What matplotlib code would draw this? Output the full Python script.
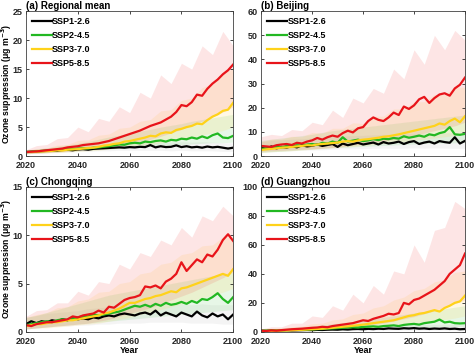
import numpy as np
import matplotlib
matplotlib.use("Agg")
import matplotlib.pyplot as plt

plt.rcParams['font.family'] = ['Liberation Sans', 'DejaVu Sans']
plt.rcParams['font.weight'] = 'bold'

years = np.arange(2020, 2101, 2)
band_years = np.arange(2020, 2101, 4)
scenarios = ["SSP1-2.6", "SSP2-4.5", "SSP3-7.0", "SSP5-8.5"]
colors = ["#000000", "#22b822", "#ffd21a", "#e8141a"]
band_colors = ["#b0b0b0", "#4cc84c", "#ffcc33", "#f03a3a"]

# (a) Regional mean
black_a = [0.7, 0.75, 0.8, 0.85, 0.9, 1.0, 0.95, 1.05, 1.1, 1.0, 1.15, 1.2, 1.1, 1.25, 1.3, 1.35, 1.4, 1.45, 1.5, 1.45,
           1.55, 1.5, 1.6, 1.55, 1.9, 1.5, 1.7, 1.55, 1.6, 1.85, 1.55, 1.7, 1.5, 1.6, 1.45, 1.65, 1.5, 1.6, 1.45, 1.3, 1.45]
green_a = [0.7, 0.75, 0.8, 0.9, 0.95, 1.0, 1.05, 1.1, 1.15, 1.2, 1.3, 1.35, 1.3, 1.45, 1.5, 1.6, 1.7, 1.85, 2.0, 1.95,
           2.2, 2.3, 2.2, 2.5, 2.4, 2.6, 2.7, 2.5, 2.8, 2.7, 3.0, 2.9, 3.2, 3.0, 3.4, 3.1, 3.6, 3.9, 3.2, 3.1, 3.5]
yellow_a = [0.7, 0.7, 0.75, 0.8, 0.85, 0.9, 1.0, 0.95, 1.1, 1.15, 1.2, 1.3, 1.4, 1.45, 1.6, 1.8, 1.9, 2.1, 2.2, 2.5,
            2.6, 2.8, 3.0, 3.2, 3.5, 3.4, 3.9, 4.1, 4.0, 4.5, 4.7, 5.0, 5.2, 5.6, 5.5, 6.2, 6.8, 7.2, 7.8, 8.0, 9.2]
red_a = [0.7, 0.75, 0.8, 0.9, 1.0, 1.1, 1.2, 1.3, 1.5, 1.6, 1.7, 1.9, 2.0, 2.1, 2.2, 2.4, 2.6, 2.9, 3.2, 3.5,
         3.8, 4.1, 4.4, 4.8, 5.2, 5.5, 5.8, 6.3, 6.8, 7.6, 8.8, 8.6, 9.3, 10.6, 10.4, 11.6, 12.5, 13.2, 14.1, 14.8, 15.8]
black_a_lo = [0.4, 0.5, 0.6, 0.7, 0.7, 0.8, 0.8, 0.9, 0.9, 1.0, 1.0, 1.0, 1.0, 1.0, 0.9, 1.0, 0.9, 0.9, 0.9, 0.8, 0.8]
black_a_hi = [1.0, 1.2, 1.4, 1.5, 1.6, 1.8, 1.9, 2.0, 2.2, 2.2, 2.3, 2.4, 2.3, 2.5, 2.4, 2.5, 2.4, 2.5, 2.4, 2.3, 2.3]
green_a_lo = [0.4, 0.5, 0.6, 0.7, 0.8, 0.9, 1.0, 1.1, 1.2, 1.4, 1.5, 1.6, 1.7, 1.8, 1.9, 2.0, 2.1, 2.2, 2.3, 2.3, 2.4]
green_a_hi = [1.0, 1.2, 1.4, 1.7, 1.9, 2.2, 2.5, 2.9, 3.3, 3.6, 4.0, 4.3, 4.6, 5.0, 5.3, 5.6, 6.0, 6.3, 6.6, 6.9, 7.2]
yellow_a_lo = [0.4, 0.5, 0.5, 0.6, 0.7, 0.8, 0.9, 1.0, 1.2, 1.4, 1.6, 1.8, 2.0, 2.3, 2.6, 2.9, 3.2, 3.6, 4.0, 4.4, 5.0]
yellow_a_hi = [1.0, 1.3, 1.4, 1.9, 2.0, 2.7, 2.8, 3.6, 3.8, 4.8, 5.0, 6.0, 6.3, 7.8, 8.0, 9.6, 10.0, 11.8, 12.5, 14.5, 15.0]
red_a_lo = [0.4, 0.5, 0.6, 0.7, 0.8, 1.0, 1.1, 1.3, 1.5, 1.8, 2.1, 2.5, 2.9, 3.4, 4.0, 4.6, 5.3, 6.0, 6.8, 7.6, 8.5]
red_a_hi = [1.1, 1.8, 2.0, 3.0, 3.2, 5.0, 4.2, 6.5, 6.0, 8.5, 7.5, 11.0, 10.0, 14.0, 12.5, 16.0, 15.0, 19.0, 17.5, 21.5, 19.0]

# (b) Beijing
black_b = [3.5, 3.0, 4.0, 3.2, 3.8, 3.5, 4.2, 3.6, 4.5, 4.0, 4.3, 4.8, 4.2, 4.6, 5.0, 3.8, 5.2, 4.5, 5.0, 5.5,
           4.8, 5.2, 5.6, 4.8, 5.8, 5.2, 5.5, 6.0, 5.0, 5.8, 6.2, 5.0, 5.6, 6.0, 5.2, 6.2, 5.8, 5.5, 7.8, 5.2, 6.3]
green_b = [3.0, 3.2, 3.5, 3.8, 3.6, 4.2, 4.0, 4.5, 4.3, 4.8, 5.0, 4.6, 5.5, 5.2, 6.0, 5.5, 7.8, 6.0, 6.4, 6.8,
           6.2, 6.5, 7.0, 6.6, 7.2, 7.0, 7.5, 7.2, 8.2, 7.6, 8.0, 8.5, 8.0, 9.0, 8.6, 9.5, 10.0, 12.0, 9.0, 8.8, 9.2]
yellow_b = [2.5, 2.8, 3.0, 3.2, 3.5, 3.6, 3.8, 4.0, 4.2, 4.5, 4.4, 4.8, 5.0, 5.2, 5.4, 5.6, 6.0, 6.2, 6.0, 6.5,
            6.8, 7.0, 7.3, 7.6, 8.0, 8.2, 8.6, 9.0, 9.5, 10.0, 10.5, 11.0, 11.5, 12.0, 12.5, 13.5, 13.0, 14.5, 15.5, 14.0, 16.5]
red_b = [4.2, 4.0, 3.8, 4.5, 4.8, 5.0, 4.6, 5.5, 5.2, 6.0, 6.5, 7.5, 6.8, 7.8, 8.5, 8.0, 9.5, 10.5, 9.8, 11.5,
         12.0, 14.5, 16.0, 15.0, 14.5, 16.0, 18.0, 17.0, 20.5, 19.5, 21.0, 23.5, 24.5, 22.0, 24.0, 25.5, 26.0, 25.0, 28.0, 29.5, 32.5]
black_b_lo = [1.5, 1.8, 2.0, 2.2, 2.4, 2.5, 2.6, 2.8, 3.0, 3.0, 3.1, 3.2, 3.3, 3.2, 3.3, 3.4, 3.3, 3.4, 3.3, 3.2, 3.2]
black_b_hi = [6.0, 6.5, 6.8, 7.0, 7.2, 7.5, 7.8, 8.0, 8.2, 8.5, 8.6, 8.8, 9.0, 9.0, 9.2, 9.2, 9.4, 9.5, 9.6, 9.6, 9.8]
green_b_lo = [1.5, 1.8, 2.0, 2.3, 2.6, 2.9, 3.2, 3.4, 3.6, 3.8, 4.0, 4.2, 4.4, 4.6, 4.8, 5.0, 5.2, 5.3, 5.4, 5.5, 5.6]
green_b_hi = [6.5, 7.0, 7.5, 8.0, 8.5, 9.0, 9.8, 10.5, 11.0, 11.5, 12.0, 12.5, 13.0, 13.5, 14.0, 14.5, 15.0, 15.5, 16.0, 16.5, 17.0]
yellow_b_lo = [1.5, 1.8, 2.0, 2.2, 2.5, 2.8, 3.1, 3.4, 3.7, 4.0, 4.4, 4.8, 5.2, 5.6, 6.0, 6.5, 7.0, 7.5, 8.0, 8.5, 9.0]
yellow_b_hi = [6.0, 7.0, 7.0, 8.2, 8.0, 9.8, 9.5, 11.5, 11.5, 13.8, 13.5, 16.5, 16.5, 19.5, 19.5, 22.5, 22.5, 25.5, 25.5, 28.5, 28.5]
red_b_lo = [2.0, 2.2, 2.4, 2.6, 2.8, 3.0, 3.3, 3.6, 4.0, 4.5, 5.0, 5.6, 6.2, 7.0, 7.8, 8.6, 9.5, 10.5, 11.5, 12.5, 14.0]
red_b_hi = [8.0, 9.0, 8.5, 11.0, 10.5, 14.0, 13.0, 19.0, 16.0, 24.0, 22.0, 28.0, 26.0, 36.0, 32.0, 44.0, 38.0, 50.0, 44.0, 52.0, 48.0]

# (c) Chongqing
black_c = [0.8, 1.1, 0.9, 1.1, 1.0, 1.2, 1.1, 1.3, 1.2, 1.5, 1.3, 1.4, 1.3, 1.5, 1.4, 1.6, 1.7, 1.6, 1.8, 1.9,
           1.8, 1.7, 1.9, 2.0, 1.8, 2.2, 1.7, 2.0, 1.8, 1.6, 2.0, 1.8, 1.6, 2.1, 1.7, 1.5, 1.9, 1.6, 1.8, 1.3, 1.8]
green_c = [0.7, 0.8, 0.9, 1.0, 1.1, 1.0, 1.2, 1.3, 1.2, 1.4, 1.5, 1.6, 1.6, 1.8, 1.7, 1.8, 1.9, 2.0, 2.1, 2.3,
           2.5, 2.7, 2.6, 2.8, 2.6, 2.9, 2.7, 3.0, 2.8, 2.9, 3.1, 2.9, 3.2, 3.0, 3.4, 3.3, 3.6, 4.0, 3.4, 3.0, 3.6]
yellow_c = [0.6, 0.7, 0.8, 0.8, 0.9, 1.0, 1.0, 1.1, 1.2, 1.2, 1.3, 1.4, 1.5, 1.6, 1.7, 1.9, 2.0, 2.2, 2.4, 2.7,
            3.0, 3.0, 3.2, 3.4, 3.5, 3.7, 3.8, 4.0, 4.2, 4.1, 4.5, 4.6, 4.8, 5.0, 5.2, 5.4, 5.6, 5.8, 6.0, 5.8, 6.5]
red_c = [0.7, 0.6, 0.8, 0.9, 1.0, 1.0, 1.1, 1.2, 1.3, 1.6, 1.5, 1.7, 1.8, 1.9, 2.2, 2.0, 2.6, 2.5, 2.9, 3.3,
         3.5, 3.6, 3.8, 4.7, 4.6, 4.8, 4.5, 5.2, 5.5, 6.0, 7.2, 6.3, 6.9, 7.5, 7.2, 8.0, 7.8, 8.5, 9.5, 10.1, 9.4]
black_c_lo = [0.3, 0.4, 0.5, 0.6, 0.6, 0.7, 0.7, 0.8, 0.8, 0.9, 0.9, 0.9, 1.0, 1.0, 1.0, 1.0, 0.9, 0.9, 0.9, 0.8, 0.8]
black_c_hi = [1.5, 1.7, 1.9, 2.0, 2.1, 2.2, 2.4, 2.5, 2.6, 2.6, 2.7, 2.7, 2.8, 2.8, 2.8, 2.9, 2.8, 2.9, 2.8, 2.8, 2.8]
green_c_lo = [0.3, 0.4, 0.5, 0.6, 0.7, 0.8, 0.9, 1.0, 1.1, 1.2, 1.3, 1.4, 1.5, 1.6, 1.7, 1.8, 1.9, 2.0, 2.1, 2.2, 2.3]
green_c_hi = [1.5, 1.7, 2.0, 2.3, 2.6, 2.9, 3.2, 3.5, 3.8, 4.0, 4.2, 4.4, 4.6, 4.8, 5.0, 5.2, 5.4, 5.6, 5.8, 6.0, 6.2]
yellow_c_lo = [0.3, 0.4, 0.4, 0.5, 0.6, 0.7, 0.8, 0.9, 1.1, 1.3, 1.5, 1.8, 2.0, 2.3, 2.6, 2.9, 3.2, 3.5, 3.8, 4.1, 4.5]
yellow_c_hi = [1.5, 1.8, 2.0, 2.5, 2.6, 3.2, 3.4, 4.1, 4.2, 5.0, 5.2, 6.0, 6.2, 7.0, 7.2, 8.0, 8.2, 8.9, 9.0, 9.8, 9.8]
red_c_lo = [0.3, 0.4, 0.5, 0.6, 0.7, 0.8, 0.9, 1.1, 1.3, 1.6, 1.9, 2.2, 2.5, 2.9, 3.3, 3.7, 4.1, 4.6, 5.1, 5.6, 6.2]
red_c_hi = [1.6, 2.2, 2.3, 3.0, 3.0, 4.2, 3.8, 5.2, 5.0, 7.0, 6.5, 8.2, 7.8, 9.5, 9.0, 10.8, 9.8, 12.0, 11.5, 13.0, 12.0]

# (d) Guangzhou
black_d = [0.8, 0.6, 1.0, 0.8, 1.0, 1.2, 1.0, 1.1, 1.2, 1.3, 1.2, 1.4, 1.3, 1.5, 1.6, 1.5, 1.8, 1.6, 1.9, 2.0,
           1.8, 2.1, 1.9, 2.2, 2.0, 2.4, 2.2, 2.1, 2.5, 2.3, 2.6, 2.2, 2.4, 2.0, 2.3, 2.1, 2.4, 2.0, 2.2, 1.8, 2.0]
green_d = [0.8, 0.9, 1.0, 1.0, 1.1, 1.2, 1.3, 1.4, 1.5, 1.6, 1.7, 1.9, 2.0, 2.2, 2.4, 2.6, 2.8, 3.0, 3.2, 3.0,
           3.4, 3.6, 3.8, 3.5, 4.0, 4.2, 4.5, 4.0, 4.8, 5.2, 5.5, 5.0, 6.0, 6.5, 7.0, 8.5, 6.5, 7.0, 6.0, 5.8, 6.0]
yellow_d = [0.5, 0.6, 0.7, 0.8, 0.9, 1.0, 1.1, 1.3, 1.4, 1.6, 1.8, 2.0, 2.2, 2.5, 2.8, 3.2, 3.5, 3.8, 4.2, 4.6,
            5.0, 5.5, 6.0, 6.5, 7.0, 7.5, 8.0, 9.0, 10.0, 11.0, 11.5, 12.5, 13.0, 14.0, 15.0, 14.0, 16.5, 18.0, 20.0, 21.0, 25.0]
red_d = [0.8, 0.6, 1.0, 0.8, 1.2, 1.5, 1.8, 2.0, 2.2, 2.5, 2.8, 3.0, 3.5, 3.2, 4.0, 4.5, 5.0, 5.5, 6.0, 7.0,
         8.0, 7.5, 9.0, 10.0, 11.0, 12.5, 12.0, 13.0, 20.0, 19.0, 22.0, 23.0, 25.0, 27.0, 29.0, 32.0, 35.0, 40.0, 43.0, 46.0, 54.0]
black_d_lo = [0.2, 0.3, 0.4, 0.5, 0.6, 0.7, 0.8, 0.9, 1.0, 1.0, 1.1, 1.1, 1.2, 1.2, 1.2, 1.2, 1.1, 1.1, 1.1, 1.0, 1.0]
black_d_hi = [1.5, 1.8, 2.0, 2.3, 2.6, 2.9, 3.2, 3.5, 3.8, 4.0, 4.2, 4.4, 4.6, 4.8, 5.0, 5.0, 5.2, 5.2, 5.3, 5.3, 5.4]
green_d_lo = [0.3, 0.4, 0.5, 0.6, 0.7, 0.8, 1.0, 1.2, 1.4, 1.6, 1.8, 2.0, 2.2, 2.4, 2.6, 2.8, 3.0, 3.2, 3.4, 3.6, 3.8]
green_d_hi = [1.5, 2.0, 2.5, 3.0, 3.5, 4.0, 4.8, 5.6, 6.4, 7.2, 8.0, 9.0, 10.0, 11.0, 12.0, 13.0, 14.0, 15.0, 16.0, 17.0, 18.0]
yellow_d_lo = [0.2, 0.3, 0.4, 0.5, 0.6, 0.8, 1.0, 1.3, 1.6, 2.0, 2.5, 3.0, 3.6, 4.2, 5.0, 5.8, 6.6, 7.5, 8.5, 9.5, 11.0]
yellow_d_hi = [1.5, 2.2, 2.6, 3.6, 4.0, 5.6, 6.0, 8.2, 9.0, 12.0, 13.0, 16.5, 18.0, 22.0, 24.0, 28.5, 30.0, 34.5, 36.0, 41.0, 42.0]
red_d_lo = [0.3, 0.4, 0.5, 0.7, 0.9, 1.2, 1.6, 2.0, 2.6, 3.2, 4.0, 5.0, 6.0, 7.5, 9.0, 10.5, 12.5, 14.5, 17.0, 19.5, 22.0]
red_d_hi = [2.0, 3.5, 3.5, 6.0, 6.0, 11.0, 10.0, 18.0, 15.0, 26.0, 20.0, 32.0, 26.0, 42.0, 40.0, 60.0, 48.0, 70.0, 72.0, 90.0, 85.0]

panels = [
    ("(a) Regional mean", [black_a, green_a, yellow_a, red_a],
     [(black_a_lo, black_a_hi), (green_a_lo, green_a_hi), (yellow_a_lo, yellow_a_hi), (red_a_lo, red_a_hi)], 25, 5),
    ("(b) Beijing", [black_b, green_b, yellow_b, red_b],
     [(black_b_lo, black_b_hi), (green_b_lo, green_b_hi), (yellow_b_lo, yellow_b_hi), (red_b_lo, red_b_hi)], 60, 10),
    ("(c) Chongqing", [black_c, green_c, yellow_c, red_c],
     [(black_c_lo, black_c_hi), (green_c_lo, green_c_hi), (yellow_c_lo, yellow_c_hi), (red_c_lo, red_c_hi)], 15, 5),
    ("(d) Guangzhou", [black_d, green_d, yellow_d, red_d],
     [(black_d_lo, black_d_hi), (green_d_lo, green_d_hi), (yellow_d_lo, yellow_d_hi), (red_d_lo, red_d_hi)], 100, 20),
]

# axes boxes in figure fraction: left, bottom, width, height
boxes = [
    [0.055, 0.564, 0.437, 0.405],
    [0.551, 0.564, 0.430, 0.405],
    [0.055, 0.073, 0.437, 0.405],
    [0.551, 0.073, 0.430, 0.405],
]

fig = plt.figure(figsize=(4.74, 3.58), dpi=100)
for i, (title, lines, bands, ymax, ystep) in enumerate(panels):
    ax = fig.add_axes(boxes[i])
    for (lo, hi), c in zip(bands, band_colors):
        ax.fill_between(band_years, lo, hi, color=c, alpha=0.13, lw=0)
    for vals, c, name in zip(lines, colors, scenarios):
        ax.plot(years, vals, color=c, lw=1.6, label=name)
    ax.set_xlim(2020, 2100)
    ax.set_ylim(0, ymax)
    ax.set_xticks([2020, 2040, 2060, 2080, 2100])
    ax.set_yticks(np.arange(0, ymax + 0.1, ystep))
    ax.tick_params(direction="in", top=True, right=True, length=2.5, width=0.6,
                   labelsize=6.5, pad=2.5, colors="#262626")
    ax.tick_params(axis="x", pad=3.5)
    for lab in ax.get_xticklabels() + ax.get_yticklabels():
        lab.set_fontweight("bold")
    for s in ax.spines.values():
        s.set_linewidth(0.6)
        s.set_color("#404040")
    ax.set_title(title, loc="left", fontsize=7, fontweight="bold", pad=1.5, x=0.0)
    leg = ax.legend(loc="upper left", frameon=False, fontsize=6.5, handlelength=2.2,
                    handletextpad=0.0, labelspacing=0.55, borderaxespad=0.3)
    for t in leg.get_texts():
        t.set_fontweight("bold")
    if i in (0, 2):
        ax.set_ylabel("Ozone suppression (\u03bcg m$^{-3}$)", fontsize=6.2, fontweight="bold")
        ax.yaxis.set_label_coords(-0.06, 0.5)
    if i in (2, 3):
        ax.set_xlabel("Year", fontsize=6.5, fontweight="bold", labelpad=0.5)

plt.savefig("out.png", dpi=100)
